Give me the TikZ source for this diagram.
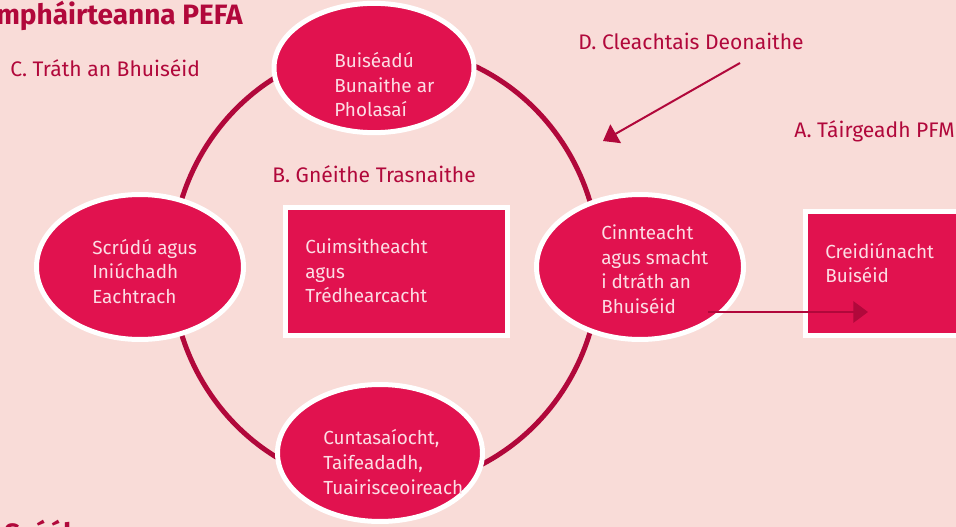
\documentclass[tikz,border=0pt]{standalone}
\usepackage{fontspec}
\setmainfont{Fira Sans}
\usetikzlibrary{shapes.geometric,arrows.meta}
\definecolor{pefabg}{HTML}{F9DCD8}
\definecolor{pefared}{HTML}{E1124F}
\definecolor{pefadark}{HTML}{B1083B}
\definecolor{pefatext}{HTML}{FCDDE4}

\begin{document}
\begin{tikzpicture}[x=0.75pt,y=-0.75pt,
  blob/.style={ellipse,fill=pefared,draw=white,line width=3.75pt,inner sep=0pt},
  panel/.style={rectangle,fill=pefared,draw=white,line width=3.75pt,inner sep=0pt},
  intext/.style={anchor=west,align=left,inner sep=0pt,text=pefatext,
    font=\fontsize{14.2}{18.4}\selectfont},
  heading/.style={anchor=base west,inner sep=0pt,text=pefadark,
    font=\fontsize{15.8}{19}\selectfont},
  bighead/.style={inner sep=0pt,text=pefadark,font=\bfseries\fontsize{21}{25}\selectfont},
  link/.style={pefadark,line width=1.5pt,-{Triangle[length=11pt,width=16pt]}}]
\useasboundingbox (0,0) rectangle (956,527);
\clip (0,0) rectangle (956,527);
\fill[pefabg] (0,0) rectangle (956,527);

\draw[pefadark,line width=3.75pt] (385.5,267) ellipse [x radius=214,y radius=221];

\node[blob,minimum width=150pt,minimum height=97pt] (budget) at (374,68) {};
\node[blob,minimum width=155.25pt,minimum height=108.75pt] (scrutiny) at (140,267) {};
\node[blob,minimum width=155.25pt,minimum height=108.75pt] (control) at (640,267) {};
\node[blob,minimum width=153.75pt,minimum height=102.75pt] (accounts) at (380,453) {};
\node[panel,minimum width=166.5pt,minimum height=96pt] (cross) at (396.5,271.5) {};
\node[panel,minimum width=153.75pt,minimum height=93pt] (credib) at (908,273.5) {};

\node[intext] (budgettxt) at (334,85) {Buiséadú\\Bunaithe ar\\Pholasaí};
\node[intext] (scrutinytxt) at (92,271.5) {Scrúdú agus\\Iniúchadh\\Eachtrach};
\node[intext] (controltxt) at (601,269) {Cinnteacht\\agus smacht\\i dtráth an\\Bhuiséid};
\node[intext] (accountstxt) at (323,462) {Cuntasaíocht,\\Taifeadadh,\\Tuairisceoireach};
\node[intext] (crosstxt) at (305,271) {Cuimsitheacht\\agus\\Trédhearcacht};
\node[intext] (credibtxt) at (825,263) {Creidiúnacht\\Buiséid};

\node[bighead,anchor=base east] (title) at (243,25) {mpháirteanna PEFA};
\node[bighead,anchor=base west] (notes) at (4,543) {Scéála};
\node[heading] (lblC) at (10,77) {C. Tráth an Bhuiséid};
\node[heading] (lblD) at (578,50) {D. Cleachtais Deonaithe};
\node[heading,anchor=base east] (lblA) at (955,138) {A. Táirgeadh PFM};
\node[heading] (lblB) at (272,183) {B. Gnéithe Trasnaithe};

\coordinate (dfrom) at (740,63);
\coordinate (dto) at (603,141);
\draw[link] (dfrom) -- (dto);
\coordinate (feedfrom) at (708,312);
\coordinate (feedto) at (868,312);
\draw[link] (feedfrom) -- (feedto);
\end{tikzpicture}
\end{document}
